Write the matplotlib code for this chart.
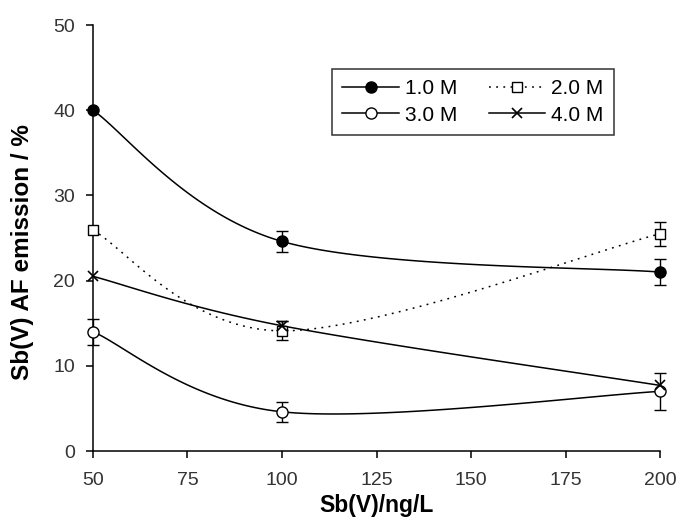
import numpy as np
import matplotlib
matplotlib.use("Agg")
import matplotlib.pyplot as plt

plt.rcParams["font.family"] = ["Liberation Sans", "DejaVu Sans"]

SB_CONC = [50, 100, 200]
SERIES_LABELS = ["1.0 M", "2.0 M", "3.0 M", "4.0 M"]
EMISSION_1M = [40.0, 24.6, 21.0]
EMISSION_2M = [25.9, 14.1, 25.5]
EMISSION_3M = [14.0, 4.6, 7.0]
EMISSION_4M = [20.5, 14.7, 7.7]
ERR_1M = [0.0, 1.2, 1.5]
ERR_2M = [0.0, 1.1, 1.4]
ERR_3M = [1.5, 1.2, 2.2]
ERR_4M = [0.0, 0.5, 0.0]


def smooth_curve(x, y, n=60):
    # Excel-style smoothed line: cubic Bezier with Catmull-Rom control points
    pts = np.column_stack([x, y]).astype(float)
    padded = np.vstack([pts[0], pts, pts[-1]])
    out = []
    for i in range(len(pts) - 1):
        p0, p1, p2, p3 = padded[i], padded[i + 1], padded[i + 2], padded[i + 3]
        c1 = p1 + (p2 - p0) / 6.0
        c2 = p2 - (p3 - p1) / 6.0
        t = np.linspace(0, 1, n)[:, None]
        seg = ((1 - t) ** 3) * p1 + 3 * ((1 - t) ** 2) * t * c1 \
            + 3 * (1 - t) * t ** 2 * c2 + t ** 3 * p2
        out.append(seg)
    curve = np.vstack(out)
    return curve[:, 0], curve[:, 1]


def main():
    fig = plt.figure(figsize=(6.78, 5.19), dpi=100)
    ax = fig.add_axes([93 / 678, 1 - 451 / 519, (660 - 93) / 678, (451 - 25) / 519])

    styles = [
        (EMISSION_1M, ERR_1M, "-", dict(marker="o", mfc="black", mec="black", ms=8)),
        (EMISSION_2M, ERR_2M, (0, (1.2, 3.5)), dict(marker="s", mfc="white", mec="black", ms=7)),
        (EMISSION_3M, ERR_3M, "-", dict(marker="o", mfc="white", mec="black", ms=8)),
        (EMISSION_4M, ERR_4M, "-", dict(marker="x", mfc="none", mec="black", ms=7.5, mew=1.2)),
    ]

    handles = []
    for (vals, errs, ls, mk), label in zip(styles, SERIES_LABELS):
        xs, ys = smooth_curve(SB_CONC, vals)
        ax.plot(xs, ys, color="black", lw=1.1, ls=ls, zorder=2)
        err_x = [x for x, e in zip(SB_CONC, errs) if e > 0]
        err_y = [v for v, e in zip(vals, errs) if e > 0]
        err_e = [e for e in errs if e > 0]
        if err_x:
            eb = ax.errorbar(err_x, err_y, yerr=err_e, fmt="none", ecolor="black",
                             elinewidth=1.0, capsize=4.5, capthick=1.0, zorder=3)
            for child in eb.get_children():
                child.set_clip_on(False)
        ax.plot(SB_CONC, vals, ls="none", zorder=4, clip_on=False, **mk)
        h, = ax.plot([], [], color="black", lw=1.1, ls=ls, **mk)
        handles.append(h)

    ax.set_xlim(50, 200)
    ax.set_ylim(0, 50)
    ax.set_xticks([50, 75, 100, 125, 150, 175, 200])
    ax.set_yticks([0, 10, 20, 30, 40, 50])
    ax.spines["top"].set_visible(False)
    ax.spines["right"].set_visible(False)
    ax.spines["left"].set_linewidth(1.1)
    ax.spines["bottom"].set_linewidth(1.1)
    ax.tick_params(direction="out", length=5, width=1.1, labelsize=14,
                   colors="black", labelcolor="#333333")
    ax.tick_params(axis="x", pad=10)
    ax.tick_params(axis="y", pad=8)
    ax.set_xlabel("Sb(V)/ng/L", fontsize=16.5, fontweight="bold", labelpad=4)
    ax.set_ylabel("Sb(V) AF emission / %", fontsize=17.5, fontweight="bold", labelpad=14)
    ax.yaxis.label.set_y(0.467)

    order = [0, 2, 1, 3]
    leg = ax.legend([handles[i] for i in order], [SERIES_LABELS[i] for i in order],
                    ncol=2, loc="upper left",
                    bbox_to_anchor=(332 / 678, 1 - 69 / 519),
                    bbox_transform=fig.transFigure, borderaxespad=0,
                    frameon=True, fancybox=False, edgecolor="black",
                    fontsize=15, handlelength=2.7, columnspacing=1.5,
                    handletextpad=0.3, borderpad=0.5, labelspacing=0.35)
    leg.get_frame().set_linewidth(1.1)

    fig.savefig("out.png", dpi=100)


if __name__ == "__main__":
    main()
